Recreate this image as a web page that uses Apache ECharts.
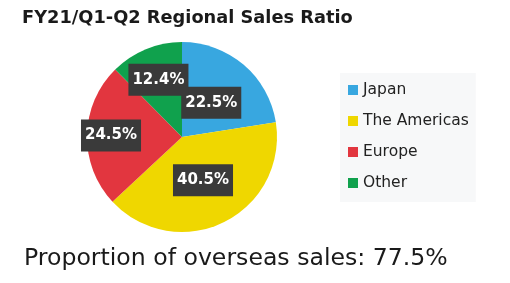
<!DOCTYPE html>
<html>
<head>
<meta charset="utf-8">
<script src="https://cdn.jsdelivr.net/npm/echarts@6/dist/echarts.min.js"></script>
<style>
  html, body { margin: 0; padding: 0; background: #fff; }
  #chart { width: 510px; height: 283px; }
</style>
</head>
<body>
<div id="chart"></div>
<script>
// values
var regions = ['Japan', 'The Americas', 'Europe', 'Other']
var ratios = [22.5, 40.5, 24.5, 12.4]
var overseas = 77.5

var colors = ['#38a7e0', '#efd700', '#e2363f', '#10a14d']
// how far from the centre each label box sits (px)
var labelDist = [45, 48, 71, 62]
var cx = 182, cy = 137

var chart = echarts.init(document.getElementById('chart'))

chart.setOption({
    animation: false,
    color: colors,
    title: [{
        text: 'FY21/Q1-Q2 Regional Sales Ratio',
        left: 17,
        top: 4,
        textStyle: { fontFamily: 'DejaVu Sans', fontWeight: 'bold', fontSize: 17.8, color: '#1a1a1a' }
    }, {
        text: 'Proportion of overseas sales: ' + overseas + '%',
        left: 19,
        top: 242,
        textStyle: { fontFamily: 'DejaVu Sans', fontWeight: 'normal', fontSize: 23.6, color: '#1a1a1a' }
    }],
    legend: {
        orient: 'vertical',
        left: 340,
        top: 73,
        padding: [9, 7, 11, 8],
        backgroundColor: '#f7f8f9',
        icon: 'rect',
        itemWidth: 10,
        itemHeight: 10,
        itemGap: 15,
        textStyle: { fontFamily: 'DejaVu Sans', fontSize: 15.5, color: '#222', padding: [0, 0, 0, 0] },
        data: regions
    },
    series: [{
        type: 'pie',
        center: [cx, cy],
        radius: 95,
        startAngle: 90,
        data: regions.map(function (r, i) { return { name: r, value: ratios[i] } }),
        itemStyle: { borderWidth: 0 },
        label: {
            position: 'inside',
            formatter: function (p) { return ratios[p.dataIndex].toFixed(1) + '%' },
            color: '#fff',
            fontFamily: 'DejaVu Sans',
            fontWeight: 'bold',
            fontSize: 15,
            lineHeight: 16,
            backgroundColor: '#3a3a3a',
            padding: [8, 4, 8, 4]
        },
        labelLayout: function (params) {
            var r = params.labelRect
            var lx = r.x + r.width / 2, ly = r.y + r.height / 2
            var dx = lx - cx, dy = ly - cy
            var d = Math.sqrt(dx * dx + dy * dy) || 1
            var k = labelDist[params.dataIndex] / d
            return { dx: dx * k - dx, dy: dy * k - dy }
        },
        emphasis: { disabled: true }
    }]
})
</script>
</body>
</html>
